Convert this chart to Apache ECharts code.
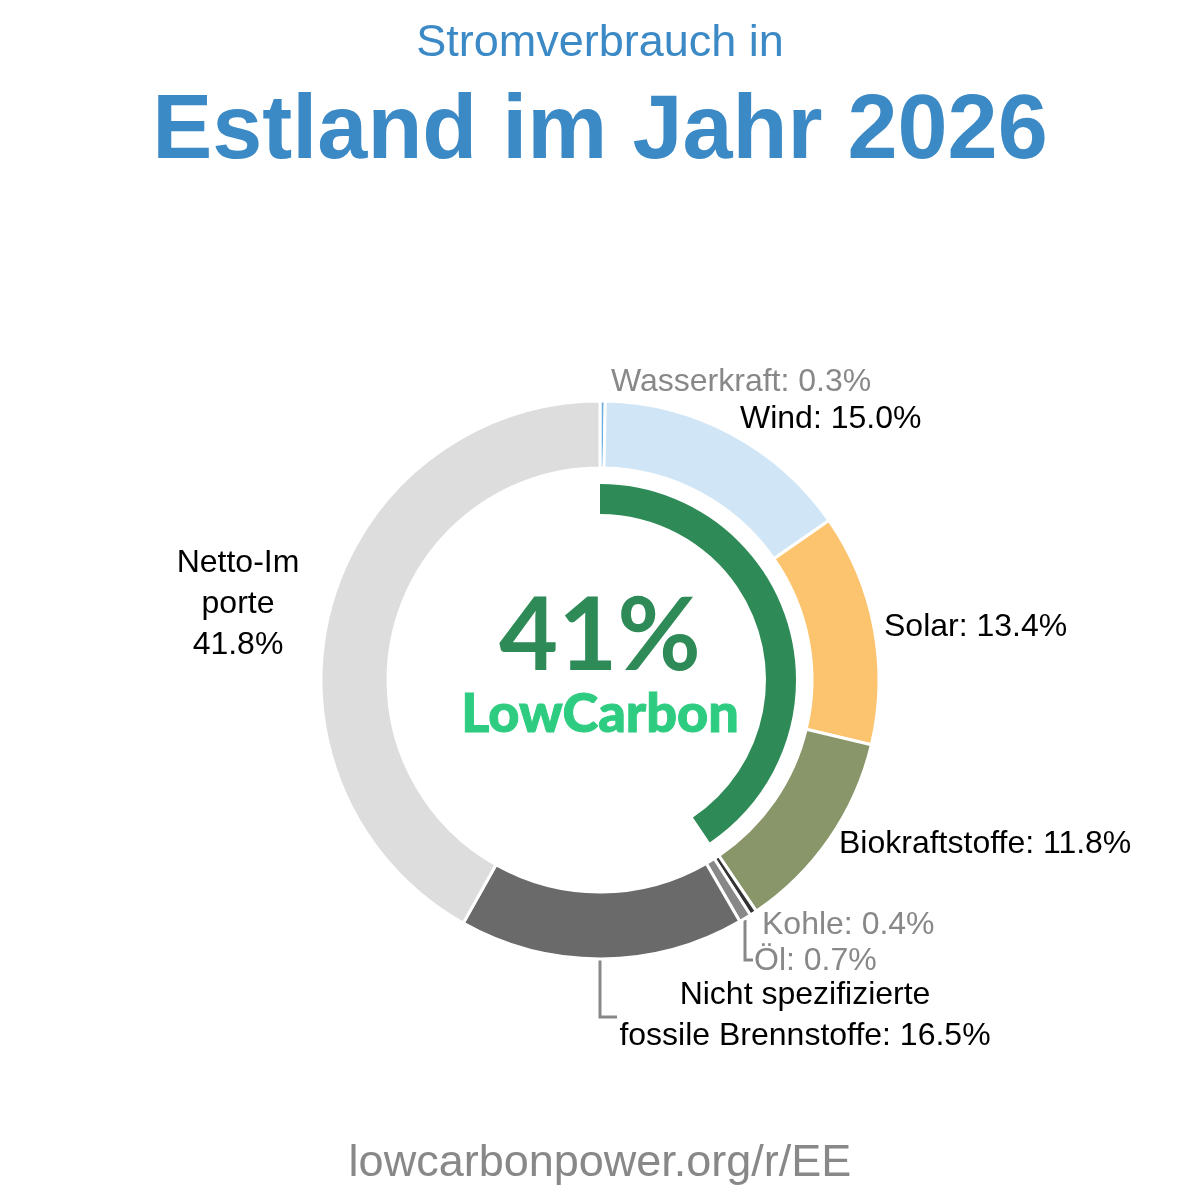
<!DOCTYPE html>
<html>
<head>
<meta charset="utf-8">
<script src="https://cdn.jsdelivr.net/npm/echarts@6/dist/echarts.min.js"></script>
<style>
html,body{margin:0;padding:0;background:#fff;}
#c{width:1200px;height:1200px;}
</style>
</head>
<body>
<div id="c"></div>
<script>
const categories = ['Wasserkraft', 'Wind', 'Solar', 'Biokraftstoffe', 'Kohle', 'Öl', 'Nicht spezifizierte fossile Brennstoffe', 'Netto-Importe'];
const shares = [0.3, 15.0, 13.4, 11.8, 0.4, 0.7, 16.5, 41.8];
const colors = ['#6aaee0', '#d0e6f6', '#fdc46f', '#88966a', '#333333', '#888888', '#6a6a6a', '#dddddd'];
const lowCarbon = ['Wasserkraft', 'Wind', 'Solar', 'Biokraftstoffe'];
const labelTexts = ['Wasserkraft: 0.3%', 'Wind: 15.0%', 'Solar: 13.4%', 'Biokraftstoffe: 11.8%', 'Kohle: 0.4%', 'Öl: 0.7%', 'Nicht spezifizierte\nfossile Brennstoffe: 16.5%', 'Netto-Im\nporte\n41.8%'];
const greyLabels = ['Wasserkraft', 'Kohle', 'Öl'];

const lowSum = categories.reduce((s, c, i) => s + (lowCarbon.includes(c) ? shares[i] : 0), 0);
const total = shares.reduce((a, b) => a + b, 0);

// label placement (left x / center y / align)
const labelPlace = [
  {x: 611, y: 382, align: 'left'},
  {x: 740, y: 419, align: 'left'},
  {x: 884, y: 627, align: 'left'},
  {x: 839, y: 844, align: 'left'},
  {x: 762, y: 925, align: 'left'},
  {x: 754, y: 961, align: 'left', line: [[745, 920], [745, 960], [753, 960]]},
  {x: 805, y: 1016, align: 'center', line: [[600, 960], [600, 1017], [617, 1017]]},
  {x: 238, y: 604, align: 'center'}
];

const chart = echarts.init(document.getElementById('c'), null, {renderer: 'canvas'});
chart.setOption({
  backgroundColor: '#ffffff',
  animation: false,
  title: [
    {text: 'Stromverbrauch in', left: 'center', top: 16,
     textStyle: {fontFamily: 'Liberation Sans', fontSize: 45, fontWeight: 'normal', color: '#3b89c5'}},
    {text: 'Estland im Jahr 2026', left: 'center', top: 83,
     textStyle: {fontFamily: 'Liberation Sans', fontSize: 90, fontWeight: 'bold', color: '#3b89c5'}},
    {text: Math.round(lowSum) + '%', left: 'center', top: 581,
     textStyle: {fontFamily: 'Lato', fontSize: 102, fontWeight: 'bold', color: '#2e8b57'}},
    {text: 'LowCarbon', left: 'center', top: 683,
     textStyle: {fontFamily: 'Lato', fontSize: 54, fontWeight: 900, color: '#2ecc80',
                 textBorderColor: '#2ecc80', textBorderWidth: 1}},
    {text: 'lowcarbonpower.org/r/EE', left: 'center', top: 1136,
     textStyle: {fontFamily: 'Liberation Sans', fontSize: 45, fontWeight: 'normal', color: '#888888'}}
  ],
  series: [
    {
      type: 'pie',
      center: [600, 680],
      radius: [212, 279],
      startAngle: 90,
      clockwise: true,
      avoidLabelOverlap: false,
      itemStyle: {borderColor: '#ffffff', borderWidth: 3},
      label: {
        show: true,
        fontFamily: 'Liberation Sans',
        fontSize: 32,
        lineHeight: 41,
        formatter: p => labelTexts[p.dataIndex]
      },
      labelLine: {show: false, lineStyle: {color: '#888888', width: 3}},
      labelLayout: function (params) {
        const lp = labelPlace[params.dataIndex];
        const r = {x: lp.x, y: lp.y, align: lp.align, verticalAlign: 'middle', hideOverlap: false, moveOverlap: false};
        if (lp.line) r.labelLinePoints = lp.line;
        return r;
      },
      emphasis: {disabled: true},
      data: categories.map((c, i) => ({
        name: c,
        value: shares[i],
        itemStyle: {color: colors[i]},
        label: {color: greyLabels.includes(c) ? '#888888' : '#000000'},
        labelLine: {show: !!labelPlace[i].line, length: 1, length2: 1}
      }))
    },
    {
      type: 'pie',
      center: [600, 680],
      radius: [166, 196],
      startAngle: 90,
      clockwise: true,
      silent: true,
      label: {show: false},
      labelLine: {show: false},
      emphasis: {disabled: true},
      data: [
        {name: 'LowCarbon', value: lowSum, itemStyle: {color: '#2e8b57'}},
        {name: 'rest', value: total - lowSum, itemStyle: {color: 'rgba(0,0,0,0)'}}
      ]
    }
  ]
});
</script>
</body>
</html>
